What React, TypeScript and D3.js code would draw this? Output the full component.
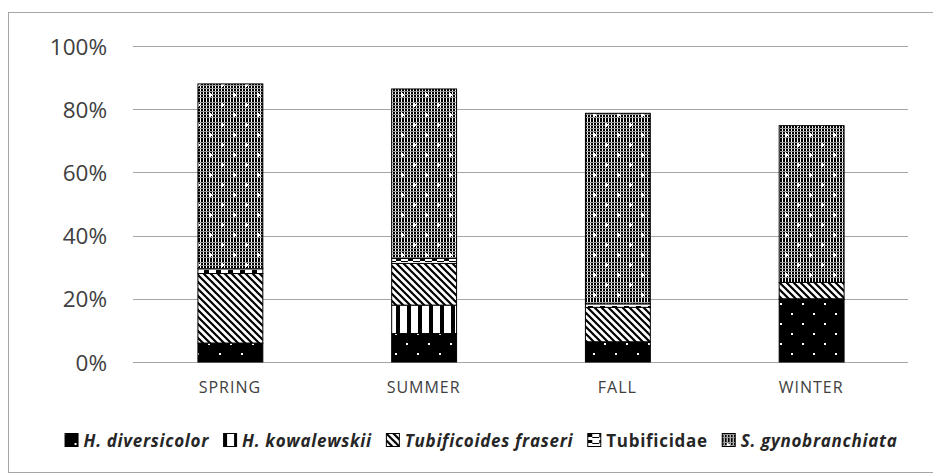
import React, { useLayoutEffect, useRef, useState } from "react";
import * as d3 from "d3";

const seasons = ["SPRING", "SUMMER", "FALL", "WINTER"];
const species = [
  "H. diversicolor",
  "H. kowalewskii",
  "Tubificoides fraseri",
  "Tubificidae",
  "S. gynobranchiata",
];
const italicSpecies = [true, true, true, false, true];
const hDiversicolor = [6, 9, 6.4, 20];
const hKowalewskii = [0, 9, 0, 0];
const tFraseri = [22, 13.2, 10.9, 5.2];
const tubificidae = [1.5, 1.6, 1.1, 0];
const sGynobranchiata = [58.5, 53.6, 60.3, 49.6];
const yTicks = [0, 20, 40, 60, 80, 100];

const seriesValues = [hDiversicolor, hKowalewskii, tFraseri, tubificidae, sGynobranchiata];
const patternIds = ["p-hd", "p-hk", "p-tf", "p-tb", "p-sg"];

const W = 933;
const H = 475;
const FONT = "'Open Sans', 'DejaVu Sans', sans-serif";

export default function App() {
  const x = d3.scaleBand<string>().domain(seasons).range([133, 908]).paddingInner(0.665).paddingOuter(0.3325);
  const y = d3.scaleLinear().domain([0, 100]).range([362, 46]);

  const rows = seasons.map((s, i) => {
    const r: any = { season: s };
    species.forEach((sp, k) => (r[sp] = seriesValues[k][i]));
    return r;
  });
  const stacked = d3.stack<any>().keys(species)(rows);

  const textRefs = useRef<(SVGTextElement | null)[]>([]);
  const [widths, setWidths] = useState<number[]>(species.map(() => 120));
  useLayoutEffect(() => {
    const w = textRefs.current.map((t) => (t ? t.getComputedTextLength() : 120));
    setWidths(w);
  }, []);

  const sq = 13;
  const sqGap = 6;
  const itemGap = 14;
  const itemWidths = widths.map((w) => sq + sqGap + w);
  const total = d3.sum(itemWidths) + itemGap * (species.length - 1);
  const legendCenter = 481;
  let cursor = legendCenter - total / 2;
  const legendX = itemWidths.map((w) => {
    const v = cursor;
    cursor += w + itemGap;
    return v;
  });
  const legendY = 440;

  return (
    <svg width={W} height={H} style={{ position: "absolute", left: 0, top: 0, background: "#fff" }}>
      <defs>
        <pattern id="p-hd" patternUnits="userSpaceOnUse" width={22} height={20}>
          <rect width={22} height={20} fill="#000" />
          <rect x={10} y={3} width={2} height={2} fill="#fff" />
          <rect x={-1} y={13} width={2} height={2} fill="#fff" />
          <rect x={21} y={13} width={2} height={2} fill="#fff" />
        </pattern>
        <pattern id="p-hk" patternUnits="userSpaceOnUse" width={11} height={10}>
          <rect width={11} height={10} fill="#fff" />
          <rect x={0} y={0} width={4} height={10} fill="#000" />
        </pattern>
        <pattern id="p-tf" patternUnits="userSpaceOnUse" width={7} height={7}>
          <rect width={7} height={7} fill="#fff" />
          <path d="M-1,-1 L8,8 M-4,3 L4,11 M3,-4 L11,4" stroke="#000" strokeWidth={2.2} />
        </pattern>
        <pattern id="p-tb" patternUnits="userSpaceOnUse" width={12} height={6}>
          <rect width={12} height={6} fill="#fff" />
          <rect x={0} y={0} width={5} height={3} fill="#000" />
          <rect x={5} y={3} width={7} height={1} fill="#000" />
        </pattern>
        <pattern id="p-cell" patternUnits="userSpaceOnUse" width={3} height={3}>
          <rect width={3} height={3} fill="#999" />
          <rect x={0} y={0} width={2} height={2} fill="#000" />
          <rect x={2} y={0} width={1} height={2} fill="#fff" />
        </pattern>
        <pattern id="p-sg" patternUnits="userSpaceOnUse" width={24} height={20}>
          <rect width={24} height={20} fill="url(#p-cell)" />
          <rect x={5} y={4} width={3} height={2} fill="#fff" />
          <rect x={6} y={3} width={1} height={4} fill="#fff" />
          <rect x={17} y={14} width={3} height={2} fill="#fff" />
          <rect x={18} y={13} width={1} height={4} fill="#fff" />
        </pattern>
      </defs>

      <rect x={8.5} y={12.5} width={940} height={460} fill="none" stroke="#a6a6a6" strokeWidth={1} />

      {yTicks.map((t) => (
        <g key={t}>
          <line x1={133} x2={908} y1={Math.round(y(t)) + 0.5} y2={Math.round(y(t)) + 0.5} stroke="#a6a6a6" strokeWidth={1.2} />
          <text
            x={107}
            y={y(t)}
            textAnchor="end"
            dominantBaseline="central"
            fontFamily={FONT}
            fontSize={22.5}
            fill="#404040"
          >
            {t}%
          </text>
        </g>
      ))}

      {stacked.map((layer, k) => (
        <g key={species[k]} fill={`url(#${patternIds[k]})`} stroke="#000" strokeWidth={1}>
          {layer.map((d, i) =>
            d[1] - d[0] > 0 ? (
              <rect
                key={i}
                x={(x(seasons[i]) as number) + 0.5}
                y={y(d[1])}
                width={x.bandwidth()}
                height={y(d[0]) - y(d[1])}
              />
            ) : null
          )}
        </g>
      ))}

      {seasons.map((s) => (
        <text
          key={s}
          x={(x(s) as number) + x.bandwidth() / 2}
          y={393}
          textAnchor="middle"
          fontFamily={FONT}
          fontSize={16}
          letterSpacing={1}
          fill="#404040"
        >
          {s}
        </text>
      ))}

      {species.map((sp, k) => (
        <g key={sp} transform={`translate(${legendX[k]},${legendY})`}>
          <rect x={0.5} y={-6.5} width={sq} height={sq} fill={`url(#${patternIds[k]})`} stroke="#000" strokeWidth={1} />
          <text
            ref={(el) => (textRefs.current[k] = el)}
            x={sq + sqGap}
            y={0}
            dominantBaseline="central"
            fontFamily={FONT}
            fontSize={17}
            letterSpacing={0.7}
            fontWeight="bold"
            fontStyle={italicSpecies[k] ? "italic" : "normal"}
            fill="#262626"
          >
            {sp}
          </text>
        </g>
      ))}
    </svg>
  );
}
